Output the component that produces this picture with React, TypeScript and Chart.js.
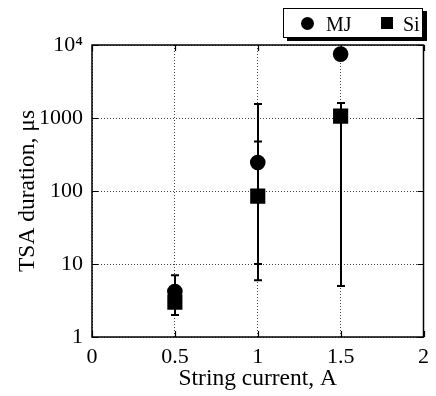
import React, { useEffect, useRef } from "react";
import { Chart, registerables } from "chart.js";

Chart.register(...registerables);

// ---- data ----
const currents = [0.5, 1, 1.5];
const mjDuration = [4.2, 245, 7500];
const mjLow: (number | null)[] = [null, 10, null];
const mjHigh: (number | null)[] = [null, 475, null];
const siDuration = [3.0, 85, 1060];
const siLow: (number | null)[] = [2, 6, 5];
const siHigh: (number | null)[] = [7, 1560, 1600];

const xTicks = [0, 0.5, 1, 1.5, 2];
const xTickLabels = ["0", "0.5", "1", "1.5", "2"];
const yTicks = [1, 10, 100, 1000, 10000];
const yTickLabels = ["1", "10", "100", "1000", "10\u2074"];

const FONT = "'Liberation Serif', 'Times New Roman', serif";

const errorBarPlugin = {
  id: "errorBars",
  beforeDatasetsDraw(chart: any) {
    const { ctx } = chart;
    const xs = chart.scales.x;
    const ys = chart.scales.y;
    const sets = [
      { low: mjLow, high: mjHigh },
      { low: siLow, high: siHigh },
    ];
    ctx.save();
    ctx.strokeStyle = "#000";
    ctx.lineWidth = 2;
    sets.forEach((s) => {
      currents.forEach((c, i) => {
        const lo = s.low[i];
        const hi = s.high[i];
        if (lo == null || hi == null) return;
        const x = Math.round(xs.getPixelForValue(c));
        const yl = ys.getPixelForValue(lo);
        const yh = ys.getPixelForValue(hi);
        ctx.beginPath();
        ctx.moveTo(x, yl);
        ctx.lineTo(x, yh);
        ctx.moveTo(x - 4, yl);
        ctx.lineTo(x + 4, yl);
        ctx.moveTo(x - 4, yh);
        ctx.lineTo(x + 4, yh);
        ctx.stroke();
      });
    });
    ctx.restore();
  },
};

const framePlugin = {
  id: "frame",
  afterDraw(chart: any) {
    const { ctx, chartArea: a } = chart;
    const xs = chart.scales.x;
    const ys = chart.scales.y;
    ctx.save();
    ctx.strokeStyle = "#000";
    ctx.lineWidth = 1.5;
    ctx.strokeRect(a.left, a.top, a.right - a.left, a.bottom - a.top);
    ctx.lineWidth = 1.2;
    ctx.beginPath();
    xTicks.forEach((v) => {
      const x = Math.round(xs.getPixelForValue(v)) + 0.5;
      ctx.moveTo(x, a.bottom);
      ctx.lineTo(x, a.bottom - 6);
      ctx.moveTo(x, a.top);
      ctx.lineTo(x, a.top + 6);
    });
    yTicks.forEach((v) => {
      const y = Math.round(ys.getPixelForValue(v)) + 0.5;
      ctx.moveTo(a.left, y);
      ctx.lineTo(a.left + 6, y);
      ctx.moveTo(a.right, y);
      ctx.lineTo(a.right - 6, y);
    });
    ctx.stroke();
    ctx.restore();
  },
};

export default function App() {
  const ref = useRef<HTMLCanvasElement | null>(null);

  useEffect(() => {
    if (!ref.current) return;
    const chart = new Chart(ref.current, {
      type: "scatter",
      data: {
        datasets: [
          {
            label: "MJ",
            data: currents.map((c, i) => ({ x: c, y: mjDuration[i] })),
            pointStyle: "circle",
            pointRadius: 7.8,
            backgroundColor: "#000",
            borderColor: "#000",
            borderWidth: 0,
            order: 1,
          },
          {
            label: "Si",
            data: currents.map((c, i) => ({ x: c, y: siDuration[i] })),
            pointStyle: "rect",
            pointRadius: 10.7,
            backgroundColor: "#000",
            borderColor: "#000",
            borderWidth: 0,
            order: 0,
          },
        ],
      },
      options: {
        animation: false,
        responsive: false,
        devicePixelRatio: 1,
        layout: { padding: { top: 45, right: 6, left: 0, bottom: 0 } },
        plugins: {
          legend: { display: false },
          tooltip: { enabled: false },
        },
        scales: {
          x: {
            type: "linear",
            min: 0,
            max: 2,
            afterBuildTicks: (s: any) => {
              s.ticks = xTicks.map((v) => ({ value: v }));
            },
            afterFit: (s: any) => {
              s.height = 59;
            },
            ticks: {
              callback: (_v: any, i: number) => xTickLabels[i],
              font: { family: FONT, size: 22 },
              color: "#000",
              padding: 7,
              maxRotation: 0,
            },
            grid: { color: "#444", lineWidth: 1, drawTicks: false },
            border: { display: false, dash: [1, 2] },
            title: {
              display: true,
              text: "String current, A",
              font: { family: FONT, size: 23.5 },
              color: "#000",
              padding: { top: 0, bottom: 3 },
            },
          },
          y: {
            type: "logarithmic",
            min: 1,
            max: 10000,
            afterBuildTicks: (s: any) => {
              s.ticks = yTicks.map((v) => ({ value: v }));
            },
            afterFit: (s: any) => {
              s.width = 92;
            },
            ticks: {
              callback: (_v: any, i: number) => yTickLabels[i],
              font: { family: FONT, size: 22 },
              color: "#000",
              padding: 9,
            },
            grid: { color: "#444", lineWidth: 1, drawTicks: false },
            border: { display: false, dash: [1, 2] },
            title: {
              display: true,
              text: "TSA duration, \u03bcs",
              font: { family: FONT, size: 23.5 },
              color: "#000",
              padding: { top: 14, bottom: 0 },
            },
          },
        },
      },
      plugins: [errorBarPlugin, framePlugin],
    } as any);
    return () => chart.destroy();
  }, []);

  const legendText: React.CSSProperties = {
    position: "absolute",
    fontFamily: FONT,
    fontSize: 20,
    lineHeight: "20px",
    color: "#000",
    top: 5,
  };

  return (
    <div style={{ position: "absolute", left: 0, top: 0, width: 436, height: 396, background: "#fff" }}>
      <canvas ref={ref} width={436} height={396} style={{ display: "block" }} />
      <div
        style={{
          position: "absolute",
          left: 283,
          top: 8,
          width: 138,
          height: 28,
          border: "1.5px solid #000",
          boxShadow: "4px 3px 0 #000",
          background: "#fff",
        }}
      >
        <div
          style={{
            position: "absolute",
            left: 17,
            top: 8,
            width: 13,
            height: 13,
            borderRadius: "50%",
            background: "#000",
          }}
        />
        <span style={{ ...legendText, left: 42 }}>MJ</span>
        <div
          style={{
            position: "absolute",
            left: 97,
            top: 8,
            width: 12,
            height: 12,
            background: "#000",
          }}
        />
        <span style={{ ...legendText, left: 119 }}>Si</span>
      </div>
    </div>
  );
}
